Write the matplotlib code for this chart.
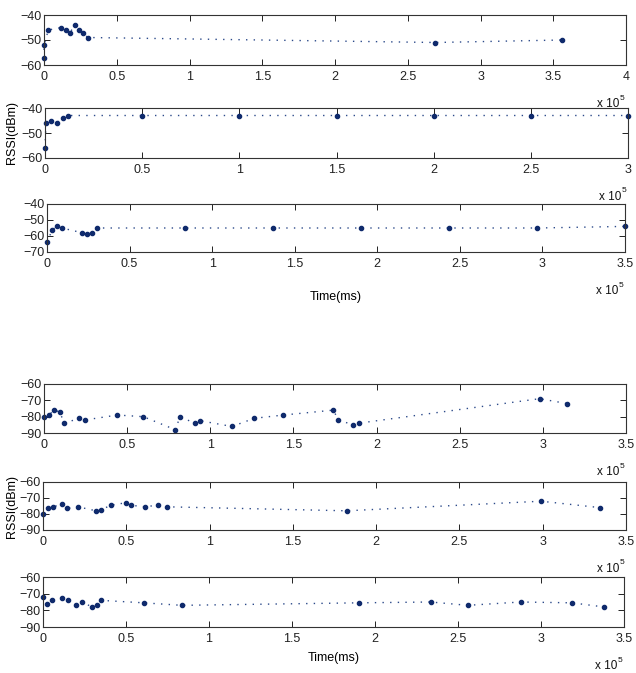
import matplotlib
matplotlib.use("Agg")
import matplotlib.pyplot as plt
from matplotlib.ticker import FixedLocator, FuncFormatter

plt.rcParams['font.family'] = ['Liberation Sans', 'DejaVu Sans']

# ---------------- data (time in ms, RSSI in dBm) ----------------
s1_t = [0, 0, 3000, 12000, 15000, 18000, 21000, 24000, 26800, 30000, 269000, 356000]
s1_r = [-57, -52, -46, -45, -46, -47, -44, -46, -47, -49, -51, -50]

s2_t = [0, 500, 3000, 6000, 9100, 12000, 50000, 100000, 150000, 200000, 250000, 300000]
s2_r = [-56, -46, -45, -46, -44, -43, -43, -43, -43, -43, -43, -43]

s3_t = [0, 3200, 6200, 9100, 21400, 24200, 27400, 30300, 83600, 137000, 190000, 243700, 297000, 350000]
s3_r = [-64, -56, -54, -55, -58, -59, -58, -55, -55, -55, -55, -55, -55, -54]

s4_t = [0, 3000, 6000, 9400, 12200, 21200, 24800, 44100, 59700, 79000, 81800, 90600, 94000,
        113000, 126500, 144000, 174000, 177000, 185800, 189200, 298000, 314700]
s4_r = [-80, -79, -76, -77, -84, -81, -82, -79, -80, -88, -80, -84, -82.5,
        -86, -81, -79, -76, -82, -85, -84, -69, -72]

s5_t = [0, 2800, 5800, 11600, 14600, 21000, 31800, 34600, 40800, 49600, 52600, 61000, 68800,
        74200, 182300, 299000, 334300]
s5_r = [-80, -76.5, -75.5, -74, -76.5, -75.5, -78, -77.5, -74.5, -73, -74.5, -75.5, -74.5,
        -75.5, -78, -72, -76]

s6_t = [0, 2400, 5200, 11200, 14800, 20000, 23700, 29500, 32500, 34900, 60700, 83600, 190400,
        233600, 255800, 287800, 318700, 338100]
s6_r = [-72, -76, -74, -72.5, -74, -77, -75, -78, -77, -74, -75.5, -77, -75.5,
        -75, -77, -75, -75.5, -78]

xmax = [400000, 300000, 350000, 350000, 350000, 350000]
yticks = [[-60, -50, -40], [-60, -50, -40], [-70, -60, -50, -40],
          [-90, -80, -70, -60], [-90, -80, -70, -60], [-90, -80, -70, -60]]
series = [(s1_t, s1_r), (s2_t, s2_r), (s3_t, s3_r), (s4_t, s4_r), (s5_t, s5_r), (s6_t, s6_r)]

ylabel = "RSSI(dBm)"
xlabel = "Time(ms)"

# ---------------- layout (pixels) ----------------
W, H = 636, 673
boxes = [(44, 626, 15, 65), (45, 628, 108, 158), (47, 625, 204, 252),
         (44, 626, 384, 433), (43, 626, 482, 530), (43, 624, 577, 627)]

fig = plt.figure(figsize=(W / 100, H / 100), dpi=100)

mark_color = '#0f2a6c'
line_color = '#2c4a8a'
fs = 9

axes = []
for i, (l, r, t, b) in enumerate(boxes):
    ax = fig.add_axes([l / W, 1 - b / H, (r - l) / W, (b - t) / H])
    tx, ry = series[i]
    ax.plot(tx, ry, linestyle=(0, (1, 4.5)), color=line_color, lw=1.0,
            marker='o', ms=3.0, mfc=mark_color, mec=mark_color, clip_on=False)
    ax.set_xlim(0, xmax[i])
    ax.set_ylim(yticks[i][0], yticks[i][-1])
    step = 50000
    ax.xaxis.set_major_locator(FixedLocator(list(range(0, xmax[i] + 1, step))))
    ax.xaxis.set_major_formatter(FuncFormatter(lambda v, p: "%g" % (v / 1e5)))
    ax.set_yticks(yticks[i])
    ax.tick_params(direction='in', top=True, right=True, length=4.5, width=0.7,
                   labelsize=fs, colors='#222222')
    ax.tick_params(axis='x', pad=4)
    ax.tick_params(axis='y', pad=1.5)
    for sp in ax.spines.values():
        sp.set_linewidth(0.8)
        sp.set_color('#333333')
    # multiplier label "x 10^5"
    fig.text((r - 7) / W, 1 - (b + 39) / H, "x 10", ha='right', va='center', fontsize=8.5,
             color='#111111')
    fig.text((r - 6) / W, 1 - (b + 33) / H, "5", ha='left', va='center', fontsize=6,
             color='#111111')
    axes.append(ax)

# axis labels
fig.text(12 / W, 1 - 132 / H, ylabel, rotation=90, ha='center', va='center', fontsize=9)
fig.text(12 / W, 1 - 507 / H, ylabel, rotation=90, ha='center', va='center', fontsize=9)
fig.text(336 / W, 1 - 297 / H, xlabel, ha='center', va='center', fontsize=9)
fig.text(334 / W, 1 - 658 / H, xlabel, ha='center', va='center', fontsize=9)

fig.savefig("out.png", dpi=100)
